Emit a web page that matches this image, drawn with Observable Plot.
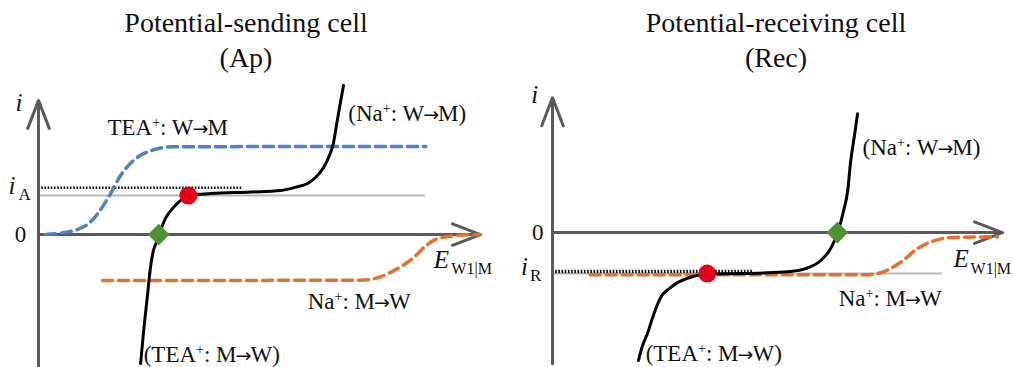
<!DOCTYPE html>
<html>
<head>
<meta charset="utf-8">
<script src="https://cdn.jsdelivr.net/npm/d3@7"></script>
<script src="https://cdn.jsdelivr.net/npm/@observablehq/plot@0.6"></script>
<style>
  body { margin: 0; background: #fff; }
  #wrap { position: relative; width: 1013px; height: 367px; overflow: hidden; background: #fff; }
  .title { position: absolute; top: 5px; transform: translateX(-50%); text-align: center; white-space: nowrap;
           font-family: "Liberation Serif", "Times New Roman", serif; font-size: 28px; line-height: 35px; color: #111; }
  #left { position: absolute; left: 0; top: 80px; }
  #right { position: absolute; left: 506px; top: 80px; }
</style>
</head>
<body>
<div id="wrap">
  <div class="title" style="left:246px">Potential-sending cell<br>(Ap)</div>
  <div class="title" style="left:776px">Potential-receiving cell<br>(Rec)</div>
  <div id="left"></div>
  <div id="right"></div>
</div>
<script>
// ---- Data (E in arbitrary units 0..10 along the E axis, i in arbitrary current units) ----
// Potential-sending cell (Ap)
const apTeaWM_E = [0.16, 0.8, 1.2, 1.5, 1.67, 1.85, 2.15, 2.6, 3.0, 8.76];
const apTeaWM_i = [0.0, 0.1, 0.35, 0.8, 1.13, 1.5, 1.9, 2.17, 2.25, 2.26];
const apNaMW_E = [1.45, 7.3, 7.7, 8.0, 8.3, 8.5, 8.75, 9.0, 9.4, 10.0];
const apNaMW_i = [-1.18, -1.17, -1.1, -0.95, -0.75, -0.58, -0.3, -0.12, -0.03, 0.0];
const apTotal_E = [2.31, 2.38, 2.47, 2.53, 2.60, 2.69, 2.76, 2.87, 3.05, 3.21, 3.39, 3.89, 4.80, 5.48, 5.81, 6.09, 6.29, 6.45, 6.56, 6.67, 6.74, 6.83, 6.90];
const apTotal_i = [-3.31, -2.46, -1.51, -0.87, -0.41, -0.15, 0.10, 0.41, 0.69, 0.87, 1.00, 1.05, 1.09, 1.13, 1.21, 1.31, 1.49, 1.72, 1.97, 2.33, 2.79, 3.38, 3.82];
const apIA = 1.0, apIAdotted = 1.2, apMixedE = 2.72, apOpenE = 3.39;
const apLabels = ["TEA⁺: W→M", "(Na⁺: W→M)", "Na⁺: M→W", "(TEA⁺: M→W)"];
const apLabelE = [1.56, 7.01, 6.09, 2.38];
const apLabelI = [2.54, 2.92, -1.92, -3.28];

// Potential-receiving cell (Rec)
const recNaMW_E = [0.84, 7.0, 7.29, 7.73, 8.11, 8.47, 8.91, 9.89];
const recNaMW_i = [-1.03, -1.03, -0.98, -0.73, -0.39, -0.2, -0.12, -0.1];
const recTotal_E = [1.91, 2.0, 2.11, 2.24, 2.42, 2.6, 2.78, 3.07, 3.44, 4.18, 4.78, 5.29, 5.62, 5.96, 6.18, 6.33, 6.47, 6.56, 6.62, 6.71, 6.78];
const recTotal_i = [-3.12, -2.76, -2.46, -2.02, -1.55, -1.36, -1.22, -1.09, -1.01, -1.0, -0.98, -0.95, -0.88, -0.68, -0.39, -0.02, 0.54, 1.02, 1.68, 2.37, 2.90];
const recIR = -1.0, recIRdotted = -0.95, recMixedE = 6.33, recOpenE = 3.44;
const recLabels = ["(Na⁺: W→M)", "Na⁺: M→W", "(TEA⁺: M→W)"];
const recLabelE = [6.89, 6.36, 2.07];
const recLabelI = [1.90, -1.78, -3.12];

// ---- Styles ----
const serif = '"Liberation Serif", "Times New Roman", serif';
const axisColor = "#5a5a5a";
const blue = "#4a82c4";
const orange = "#e8702a";
const red = "#e3001b";
const green = "#4f9231";

const zip = (E, I) => E.map((e, k) => ({E: e, i: I[k]}));

function panel(o) {
  const labels = o.labels.map((t, k) => ({t, E: o.labelE[k], i: o.labelI[k]}));
  const marks = [
    Plot.ruleY([o.level], {x1: 0, x2: o.levelEnd, stroke: "#b8b8b8", strokeWidth: 2}),
    Plot.ruleY([o.dotted], {x1: o.dottedStart, x2: o.dottedEnd, stroke: "#111", strokeWidth: o.dottedWidth, strokeDasharray: "1.6,1.6"}),
    Plot.arrow([{x1: 0, y1: 0, x2: 10, y2: 0}], {x1: "x1", y1: "y1", x2: "x2", y2: "y2", stroke: axisColor, strokeWidth: 3, headLength: 15, headAngle: 42}),
    Plot.arrow([{x1: 0, y1: o.yAxisBottom, x2: 0, y2: o.yAxisTop}], {x1: "x1", y1: "y1", x2: "x2", y2: "y2", stroke: axisColor, strokeWidth: 3, headLength: 15, headAngle: 42}),
  ];
  if (o.blue) marks.push(Plot.line(o.blue, {x: "E", y: "i", curve: "monotone-x", stroke: blue, strokeWidth: 3.5, strokeDasharray: "10,6"}));
  marks.push(
    Plot.line(o.orange, {x: "E", y: "i", curve: "monotone-x", stroke: orange, strokeWidth: 3.5, strokeDasharray: "10,6"}),
    Plot.line(o.total, {x: "E", y: "i", curve: "monotone-x", stroke: "#000", strokeWidth: 3}),
    Plot.dot([{E: o.openE, i: o.level}], {x: "E", y: "i", r: 9, fill: red}),
    Plot.dot([{E: o.mixedE, i: 0}], {x: "E", y: "i", r: 9.8, symbol: "diamond2", fill: green}),
    Plot.text(labels, {x: "E", y: "i", text: "t", textAnchor: "start", lineAnchor: "bottom", fontSize: 23, fill: "#111", fontFamily: serif}),
    Plot.text(["0"], {x: o.zeroE, y: 0, text: d => d, textAnchor: "middle", lineAnchor: "middle", fontSize: 23, fill: "#111", fontFamily: serif}),
    Plot.text(["i"], {x: o.iE, y: o.iLab, text: d => d, textAnchor: "start", lineAnchor: "bottom", fontSize: 25, fontStyle: "italic", fill: "#111", fontFamily: serif}),
    Plot.text(["i"], {x: o.levelLabE, y: o.levelLabI, text: d => d, textAnchor: "start", lineAnchor: "bottom", fontSize: 25, fontStyle: "italic", fill: "#111", fontFamily: serif}),
    Plot.text([o.levelSub], {x: o.levelSubE, y: o.levelSubI, text: d => d, textAnchor: "start", lineAnchor: "bottom", fontSize: 17, fill: "#111", fontFamily: serif}),
    Plot.text(["E"], {x: o.eLabE, y: o.eLabI, text: d => d, textAnchor: "start", lineAnchor: "bottom", fontSize: 25, fontStyle: "italic", fill: "#111", fontFamily: serif}),
    Plot.text(["W1|M"], {x: o.eSubE, y: o.eSubI, text: d => d, textAnchor: "start", lineAnchor: "bottom", fontSize: 16, fill: "#111", fontFamily: serif})
  );
  const svg = Plot.plot({
    width: o.width, height: 287,
    marginLeft: o.marginLeft, marginRight: o.marginRight, marginTop: 0, marginBottom: 0,
    x: {domain: [0, 10], axis: null},
    y: {domain: o.yDomain, axis: null},
    style: {background: "transparent", overflow: "visible"},
    marks
  });
  tightenLabels(svg);
  return svg;
}

// Render "⁺" as a raised small plus and "→" as a compact arrow, inside the label texts.
function tightenLabels(svg) {
  const NS = "http://www.w3.org/2000/svg";
  svg.querySelectorAll("text").forEach(t => {
    const s = t.textContent;
    if (!/[→⁺]/.test(s)) return;
    const target = t.querySelector("tspan") || t;
    const str = target.textContent;
    while (target.firstChild) target.removeChild(target.firstChild);
    let pendingDx = 0, pendingDy = 0, buf = "";
    const flush = () => {
      if (!buf) return;
      const ts = document.createElementNS(NS, "tspan");
      if (pendingDx) ts.setAttribute("dx", pendingDx);
      if (pendingDy) ts.setAttribute("dy", pendingDy);
      ts.textContent = buf;
      target.appendChild(ts);
      buf = ""; pendingDx = 0; pendingDy = 0;
    };
    for (const ch of str) {
      if (ch === "⁺") {
        flush();
        const ts = document.createElementNS(NS, "tspan");
        ts.setAttribute("dy", -8);
        ts.setAttribute("font-size", 14);
        ts.textContent = "+";
        target.appendChild(ts);
        pendingDy = 8;
      } else if (ch === "→") {
        flush();
        const ts = document.createElementNS(NS, "tspan");
        ts.setAttribute("dx", -1);
        ts.setAttribute("font-size", 19);
        ts.setAttribute("font-family", "DejaVu Sans");
        ts.textContent = "→";
        target.appendChild(ts);
        pendingDx = -1;
      } else buf += ch;
    }
    flush();
  });
}

document.getElementById("left").appendChild(panel({
  width: 506, marginLeft: 38, marginRight: 26, yDomain: [-3.41, 3.95],
  level: apIA, levelEnd: 8.76, dotted: apIAdotted, dottedStart: 0, dottedEnd: 4.62, dottedWidth: 2.5,
  yAxisBottom: -3.41, yAxisTop: 3.44,
  blue: zip(apTeaWM_E, apTeaWM_i), orange: zip(apNaMW_E, apNaMW_i), total: zip(apTotal_E, apTotal_i),
  openE: apOpenE, mixedE: apMixedE,
  labels: apLabels, labelE: apLabelE, labelI: apLabelI,
  zeroE: -0.41, iE: -0.52, iLab: 3.18,
  levelLabE: -0.68, levelLabI: 1.05, levelSub: "A", levelSubE: -0.45, levelSubI: 0.88,
  eLabE: 8.94, eLabI: -0.85, eSubE: 9.34, eSubI: -1.0
}));

document.getElementById("right").appendChild(panel({
  width: 507, marginLeft: 46, marginRight: 11, yDomain: [-3.29, 3.71],
  level: recIR, levelEnd: 8.67, dotted: recIRdotted, dottedStart: 0.07, dottedEnd: 4.47, dottedWidth: 3.5,
  yAxisBottom: -3.2, yAxisTop: 3.29,
  blue: null, orange: zip(recNaMW_E, recNaMW_i), total: zip(recTotal_E, recTotal_i),
  openE: recOpenE, mixedE: recMixedE,
  labels: recLabels, labelE: recLabelE, labelI: recLabelI,
  zeroE: -0.33, iE: -0.47, iLab: 3.17,
  levelLabE: -0.7, levelLabI: -1.03, levelSub: "R", levelSubE: -0.5, levelSubI: -1.17,
  eLabE: 8.91, eLabI: -0.85, eSubE: 9.29, eSubI: -1.02
}));
</script>
</body>
</html>
